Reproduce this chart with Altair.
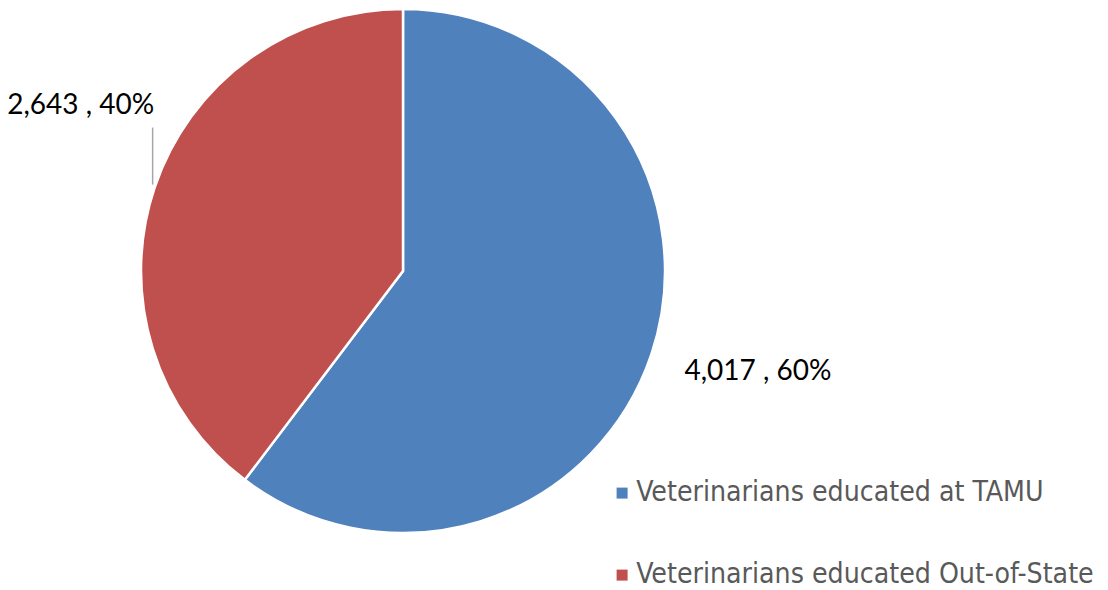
import altair as alt
import pandas as pd
import numpy as np

categories = ["Veterinarians educated at TAMU", "Veterinarians educated Out-of-State"]
values = [4017, 2643]
labels = ["4,017 , 60%", "2,643 , 40%"]
colors = ["#4F81BD", "#C0504D"]

df = pd.DataFrame({"category": categories, "value": values, "label": labels, "order": [0, 1]})

# geometry of the pie (pixels in the plot area)
CX, CY, R = 395, 263, 262

# leader line for the second slice, derived from the data
total = sum(values)
mid = 2 * np.pi * (values[0] + values[1] / 2) / total
lx = CX + R * np.sin(mid)
ly = CY - R * np.cos(mid)
lead = pd.DataFrame({"x": [lx - 2], "y": [ly - 3], "y2": [ly - 60]})

base = alt.Chart(df).encode(
    theta=alt.Theta("value:Q", stack=True),
    order=alt.Order("order:Q"),
)

pie = base.mark_arc(outerRadius=R, stroke="white", strokeWidth=2.5).encode(
    x=alt.value(CX), y=alt.value(CY),
    color=alt.Color(
        "category:N",
        scale=alt.Scale(domain=categories, range=colors),
        sort=categories,
        legend=alt.Legend(
            title=None, orient="none", legendX=600, legendY=471,
            symbolType="square", symbolSize=121, symbolStrokeWidth=0,
            labelFont="DejaVu Sans Condensed, DejaVu Sans", labelFontSize=28.2,
            labelColor="#595959", labelOffset=0, rowPadding=53, padding=0,
            labelLimit=700,
        ),
    ),
)

txt_blue = base.mark_text(radius=367, fontSize=28, font="Lato", color="black",
                          align="center", baseline="middle", dx=7, dy=-16).encode(
    x=alt.value(CX), y=alt.value(CY), text="label:N",
    opacity=alt.condition(alt.datum.order == 0, alt.value(1), alt.value(0)),
)
txt_red = base.mark_text(radius=340, fontSize=28, font="Lato", color="black",
                         align="center", baseline="middle", dy=-57).encode(
    x=alt.value(CX), y=alt.value(CY), text="label:N",
    opacity=alt.condition(alt.datum.order == 1, alt.value(1), alt.value(0)),
)

leader = alt.Chart(lead).mark_rule(color="#A6A6A6", strokeWidth=1.5).encode(
    x=alt.X("x:Q", scale=None), y=alt.Y("y:Q", scale=None), y2="y2:Q",
)

chart = alt.layer(pie, leader, txt_blue, txt_red).properties(
    width=1092, height=582, autosize=alt.AutoSizeParams(type="none"), padding=0,
).configure_view(stroke=None)

chart.save("out.html", embed_options={"renderer": "svg", "actions": False})
